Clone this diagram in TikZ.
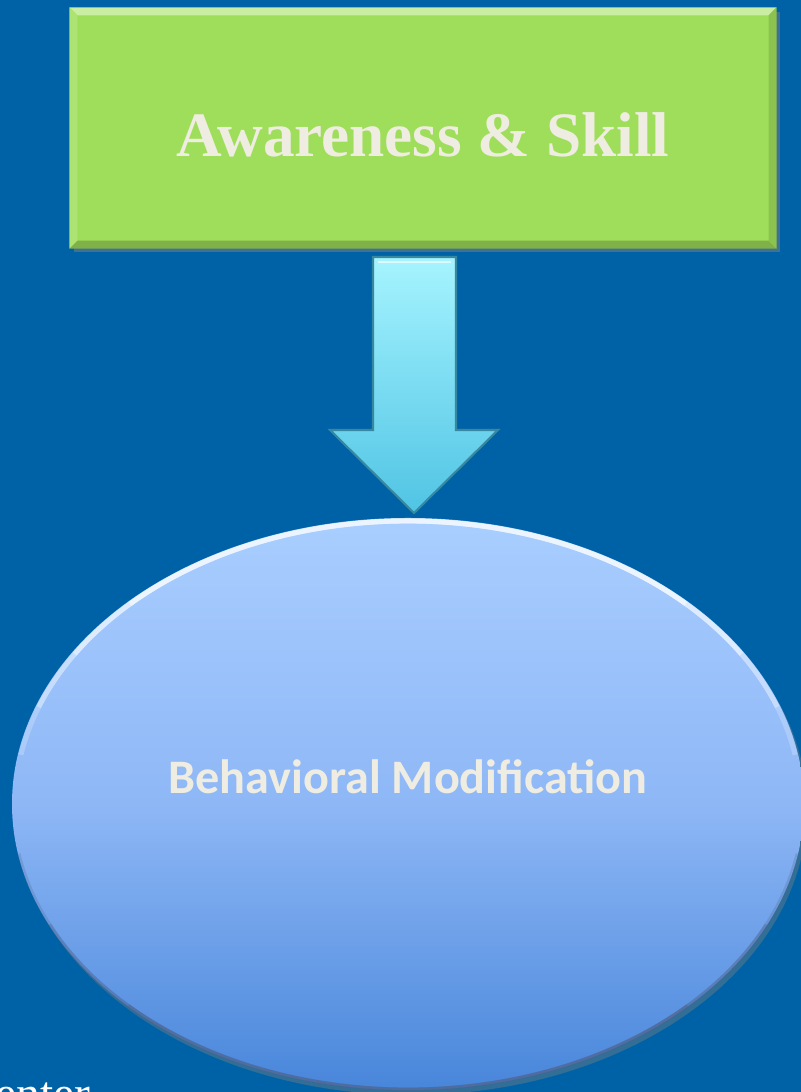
\documentclass[tikz,border=0pt]{standalone}
\usepackage{fontspec}
\setmainfont{Liberation Serif}
\newfontfamily\labelfont{Carlito}
\usetikzlibrary{positioning,shapes.geometric,shadows}
\definecolor{bgblue}{HTML}{0062A6}
\definecolor{boxgreen}{HTML}{9FDE5A}
\definecolor{textcream}{HTML}{EFECE2}
\definecolor{arrowtop}{HTML}{A6F4FF}
\definecolor{arrowbot}{HTML}{50C4E4}
\definecolor{ovaltop}{HTML}{A9CEFF}
\definecolor{ovalmid}{HTML}{8EB7F6}
\definecolor{ovalbot}{HTML}{4886DA}
\definecolor{ovalrim}{HTML}{4F6590}
\tikzset{
  skillbox/.style={minimum width=7.06cm, minimum height=2.40cm, inner sep=0pt,
    fill=boxgreen, drop shadow={shadow xshift=0.04cm, shadow yshift=-0.04cm, opacity=0.5}},
  ovalbox/.style={ellipse, minimum width=7.92cm, minimum height=5.72cm, inner sep=0pt,
    top color=ovaltop, bottom color=ovalbot, middle color=ovalmid,
    drop shadow={shadow xshift=0.03cm, shadow yshift=-0.05cm, opacity=0.4}},
  bigtext/.style={text=textcream, inner sep=0pt}
}
\begin{document}
\begin{tikzpicture}
% Background
\fill[bgblue] (0,0) rectangle (8.01,10.92);
\useasboundingbox (0,0) rectangle (8.01,10.92);

% Green box with bevel
\node[skillbox] (skill) at (4.23,9.64) {};
\fill[boxgreen!55!white] (skill.north west) -- (skill.north east) -- ([shift={(-0.08,-0.08)}]skill.north east) -- ([shift={(0.08,-0.08)}]skill.north west) -- cycle;
\fill[boxgreen!80!black] (skill.south west) -- (skill.south east) -- ([shift={(-0.08,0.08)}]skill.south east) -- ([shift={(0.08,0.08)}]skill.south west) -- cycle;
\fill[boxgreen!85!white] (skill.north west) -- (skill.south west) -- ([shift={(0.08,0.08)}]skill.south west) -- ([shift={(0.08,-0.08)}]skill.north west) -- cycle;
\fill[boxgreen!88!black] (skill.north east) -- (skill.south east) -- ([shift={(-0.08,0.08)}]skill.south east) -- ([shift={(-0.08,-0.08)}]skill.north east) -- cycle;
\node[bigtext, font=\bfseries\fontsize{18}{22}\selectfont] (skilltext) at ([yshift=-0.07cm]skill.center) {Awareness \& Skill};

% Block arrow down
\shade[top color=arrowtop, bottom color=arrowbot, draw=arrowbot!70!black, line width=0.6pt]
  (3.73,8.35) -- (4.56,8.35) -- (4.56,6.62) -- (4.98,6.62) -- (4.14,5.79)
  -- (3.30,6.62) -- (3.73,6.62) -- cycle;
\draw[white!60!arrowtop, line width=0.6pt] (3.78,8.30) -- (4.51,8.30);

% Oval with light top rim and dark lower rim (faded towards the sides)
\node[ovalbox] (behav) at (4.08,2.88) {};
\foreach \a/\op in {10/0.25, 20/0.35, 32/0.5, 45/0.7} {
  \draw[white!85!ovaltop, line width=1.4pt, opacity=\op]
    ([shift={(\a:3.93 and 2.83)}]behav.center) arc[start angle=\a, end angle=180-\a, x radius=3.93cm, y radius=2.83cm];
}
\foreach \a/\op in {190/0.25, 205/0.35, 225/0.5} {
  \draw[ovalrim, line width=0.8pt, opacity=\op]
    ([shift={(\a:3.95 and 2.85)}]behav.center) arc[start angle=\a, end angle=540-\a, x radius=3.95cm, y radius=2.85cm];
}
\node[bigtext, font=\labelfont\bfseries\fontsize{13.7}{16}\selectfont] (behavtext) at ([yshift=0.27cm]behav.center) {Behavioral Modification};

% Cut-off text at the bottom
\node[anchor=base west, text=white, inner sep=0pt, font=\fontsize{13.5}{16}\selectfont] (footer) at (-0.05,-0.17) {enter};
\end{tikzpicture}
\end{document}
